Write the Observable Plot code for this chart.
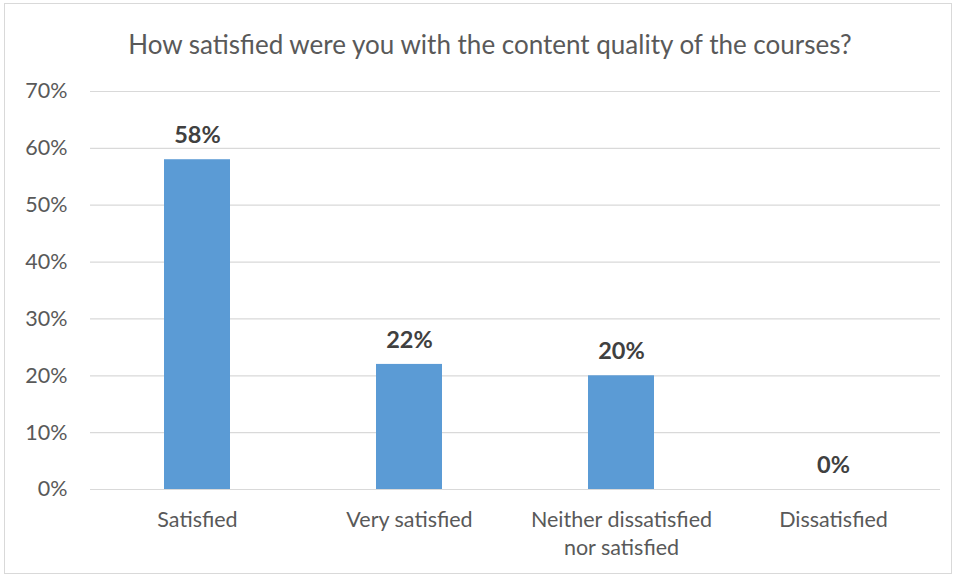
<!DOCTYPE html>
<html><head><meta charset="utf-8">
<script src="https://cdn.jsdelivr.net/npm/d3@7"></script>
<script src="https://cdn.jsdelivr.net/npm/@observablehq/plot@0.6"></script>
<style>
body{margin:0;background:#fff;}
#wrap{position:relative;width:954px;height:575px;overflow:hidden;font-family:Lato,sans-serif;}
#border{position:absolute;left:4px;top:3px;width:946px;height:569px;border:1px solid #d9d9d9;}
#title{position:absolute;left:0;top:28px;width:980px;text-align:center;font-size:26px;line-height:32px;color:#595959;font-family:Lato,sans-serif;}
#chart{position:absolute;left:0;top:0;}
</style></head>
<body><div id="wrap"><div id="border"></div><div id="chart"></div><div id="title">How satisfied were you with the content quality of the courses?</div></div>
<script>
const categories = ["Satisfied", "Very satisfied", "Neither dissatisfied\nnor satisfied", "Dissatisfied"];
const values = [0.58, 0.22, 0.20, 0.00];
const labels = ["58%", "22%", "20%", "0%"];
const yTicks = [0, 0.1, 0.2, 0.3, 0.4, 0.5, 0.6, 0.7];

const data = categories.map((c, i) => ({cat: c, v: values[i], label: labels[i]}));

const chart = Plot.plot({
  width: 954, height: 575,
  marginLeft: 90, marginRight: 14, marginTop: 91, marginBottom: 86,
  style: {fontFamily: "Lato, sans-serif", background: "transparent", color: "#595959"},
  x: {domain: categories, paddingInner: 0.69, paddingOuter: 0.345, align: 0.5},
  y: {domain: [0, 0.7]},
  marks: [
    Plot.gridY(yTicks, {stroke: "#d9d9d9", strokeOpacity: 1, strokeWidth: 1.2}),
    Plot.axisY(yTicks, {tickSize: 0, tickPadding: 23, fontSize: 21.5, fill: "#595959", label: null, tickFormat: d => Math.round(d * 100) + "%"}),
    Plot.axisX({tickSize: 0, tickPadding: 18, fontSize: 21.5, fill: "#595959", label: null, lineHeight: 1.3}),
    Plot.barY(data, {x: "cat", y: "v", fill: "#5b9bd5"}),
    Plot.text(data, {x: "cat", y: "v", text: "label", dy: -24, fontSize: 23.5, fontWeight: "bold", fill: "#404040"})
  ]
});
document.getElementById("chart").appendChild(chart);
</script></body></html>
